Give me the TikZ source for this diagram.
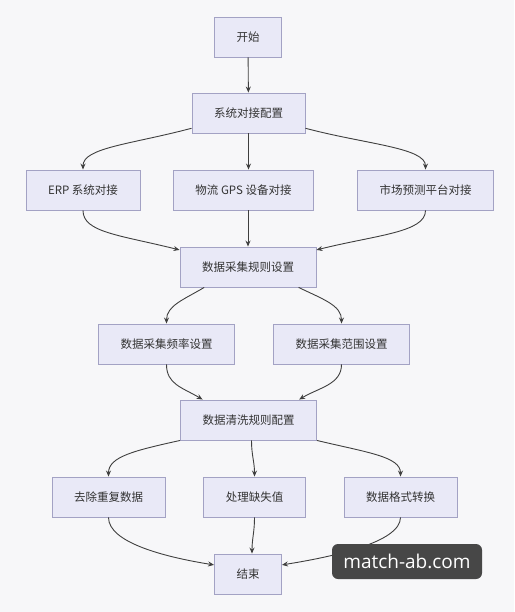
\documentclass[tikz,border=0pt]{standalone}
\usepackage{fontspec}
\setmainfont{Noto Sans CJK SC}
\newfontfamily\wmfont{Open Sans}
\usetikzlibrary{arrows.meta}
\definecolor{boxfill}{HTML}{E9E9F7}
\definecolor{boxline}{HTML}{A3A2C4}
\definecolor{lnk}{HTML}{3F3F3F}
\definecolor{bgc}{HTML}{F7F7F9}
\definecolor{wmc}{HTML}{474747}

\begin{document}
\begin{tikzpicture}[x=1pt, y=-1pt,
    stepbox/.style={draw=boxline, fill=boxfill, line width=0.9pt, minimum height=40pt,
      inner xsep=22pt, text=black!80, font=\fontsize{11.5}{14}\selectfont},
    flow/.style={draw=lnk, line width=0.9pt, -{Stealth[length=6pt,width=5pt]}}]
      \fill[bgc] (0,0) rectangle (514,612);
      \node[stepbox] (start) at (248, 37) {开始};
      \node[stepbox] (cfg) at (248.5, 113) {系统对接配置};
      \node[stepbox] (erp) at (83, 190) {ERP 系统对接};
      \node[stepbox] (gps) at (243.5, 190) {物流 GPS 设备对接};
      \node[stepbox] (mkt) at (425.5, 190) {市场预测平台对接};
      \node[stepbox] (rule) at (248, 267) {数据采集规则设置};
      \node[stepbox] (freq) at (166.5, 344) {数据采集频率设置};
      \node[stepbox] (scope) at (341.5, 344) {数据采集范围设置};
      \node[stepbox] (clean) at (248.5, 420) {数据清洗规则配置};
      \node[stepbox] (dedup) at (108.5, 497) {去除重复数据};
      \node[stepbox] (miss) at (254.5, 497) {处理缺失值};
      \node[stepbox] (fmt) at (400.5, 497) {数据格式转换};
      \node[stepbox] (stop) at (248, 574) {结束};
      \draw[flow] (start) -- (cfg);
      \draw[flow] (cfg.195) .. controls +(-60,16) and +(0,-22) .. (erp.north);
      \draw[flow] (cfg.south) -- (cfg.south |- gps.north);
      \draw[flow] (cfg.-15) .. controls +(60,16) and +(0,-22) .. (mkt.north);
      \draw[flow] (erp.south) .. controls +(0,22) and +(-60,-15) .. (rule.166);
      \draw[flow] (rule.north |- gps.south) -- (rule.north);
      \draw[flow] (mkt.south) .. controls +(0,22) and +(60,-15) .. (rule.14);
      \draw[flow] (rule.205) .. controls +(-20,12) and +(0,-18) .. (freq.north);
      \draw[flow] (rule.-22) .. controls +(25,12) and +(0,-18) .. (scope.north);
      \draw[flow] (freq.south) .. controls +(0,20) and +(-20,-12) .. (clean.156);
      \draw[flow] (scope.south) .. controls +(0,20) and +(20,-12) .. (clean.22);
      \draw[flow] (clean.south west) .. controls +(-45,10) and +(0,-20) .. (dedup.north);
      \draw[flow] ([xshift=3pt]clean.south) .. controls +(0,15) and +(0,-15) .. (miss.north);
      \draw[flow] (clean.south east) .. controls +(50,12) and +(0,-20) .. (fmt.north);
      \draw[flow] (dedup.south) .. controls +(0,25) and +(-50,-8) .. (stop.165);
      \draw[flow] (miss.south) .. controls +(0,15) and +(0,-15) .. ([xshift=4pt]stop.north);
      \draw[flow] (fmt.south) .. controls +(0,25) and +(50,-8) .. (stop.15);
      \node[fill=wmc, rounded corners=6pt, text=white, minimum width=150pt, minimum height=35pt,
        inner sep=0pt, font=\wmfont\fontsize{19}{22}\selectfont] (wmark) at (407, 561.5) {match-ab.com};
\end{tikzpicture}
\end{document}
